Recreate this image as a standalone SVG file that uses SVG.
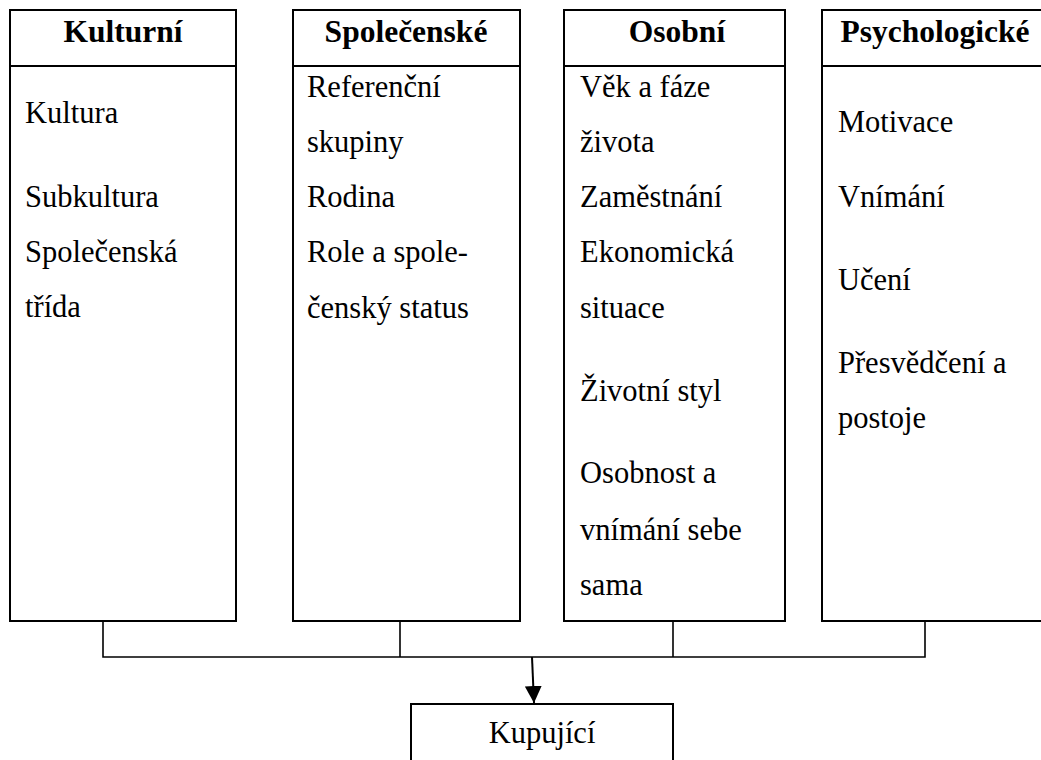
<svg xmlns="http://www.w3.org/2000/svg" width="1041" height="760" viewBox="0 0 1041 760">
<style>
.box{fill:#fff;stroke:#000;stroke-width:2}
.t{font-family:"Liberation Serif","Times New Roman",serif;font-size:30.5px;fill:#000}
.h{font-family:"Liberation Serif","Times New Roman",serif;font-size:31.5px;font-weight:bold;fill:#000;text-anchor:middle}
.c{fill:none;stroke:#000;stroke-width:1.6}
.a{fill:none;stroke:#000;stroke-width:2}
</style>
<defs>
<marker id="arr" viewBox="0 0 10 10" refX="10" refY="5" markerWidth="17" markerHeight="17" markerUnits="userSpaceOnUse" orient="auto">
<path d="M0,0 L10,5 L0,10 Z" fill="#000"/>
</marker>
</defs>
<rect width="1041" height="760" fill="#fff"/>
<g id="connectors">
<path class="c" d="M103,621 V657 H925 V621"/>
<path class="c" d="M400,621 V657"/>
<path class="c" d="M673,621 V657"/>
<path class="a" d="M532,657 L534,703" marker-end="url(#arr)"/>
</g>
<g id="kulturni">
<rect class="box" x="10" y="10" width="226" height="611"/>
<line class="box" x1="10" y1="66" x2="236" y2="66"/>
<text class="h" x="123" y="42">Kulturní</text>
<text class="t" x="25" y="123">Kultura</text>
<text class="t" x="25" y="207">Subkultura</text>
<text class="t" x="25" y="262">Společenská</text>
<text class="t" x="25" y="317">třída</text>
</g>
<g id="spolecenske">
<rect class="box" x="293" y="10" width="227" height="611"/>
<line class="box" x1="293" y1="66" x2="520" y2="66"/>
<text class="h" x="406" y="42">Společenské</text>
<text class="t" x="307" y="97">Referenční</text>
<text class="t" x="307" y="152">skupiny</text>
<text class="t" x="307" y="207">Rodina</text>
<text class="t" x="307" y="262">Role a spole-</text>
<text class="t" x="307" y="318">čenský status</text>
</g>
<g id="osobni">
<rect class="box" x="564" y="10" width="221" height="611"/>
<line class="box" x1="564" y1="66" x2="785" y2="66"/>
<text class="h" x="677" y="42">Osobní</text>
<text class="t" x="580" y="97">Věk a fáze</text>
<text class="t" x="580" y="152">života</text>
<text class="t" x="580" y="207">Zaměstnání</text>
<text class="t" x="580" y="262">Ekonomická</text>
<text class="t" x="580" y="318">situace</text>
<text class="t" x="580" y="401">Životní styl</text>
<text class="t" x="580" y="483">Osobnost a</text>
<text class="t" x="580" y="540">vnímání sebe</text>
<text class="t" x="580" y="595">sama</text>
</g>
<g id="psychologicke">
<rect class="box" x="822" y="10" width="230" height="611"/>
<line class="box" x1="822" y1="66" x2="1052" y2="66"/>
<text class="h" x="935" y="42">Psychologické</text>
<text class="t" x="838" y="132">Motivace</text>
<text class="t" x="838" y="207">Vnímání</text>
<text class="t" x="838" y="290">Učení</text>
<text class="t" x="838" y="373">Přesvědčení a</text>
<text class="t" x="838" y="428">postoje</text>
</g>
<g id="kupujici">
<rect class="box" x="411" y="704" width="262" height="70"/>
<text class="t" x="542" y="743" text-anchor="middle">Kupující</text>
</g>
</svg>
